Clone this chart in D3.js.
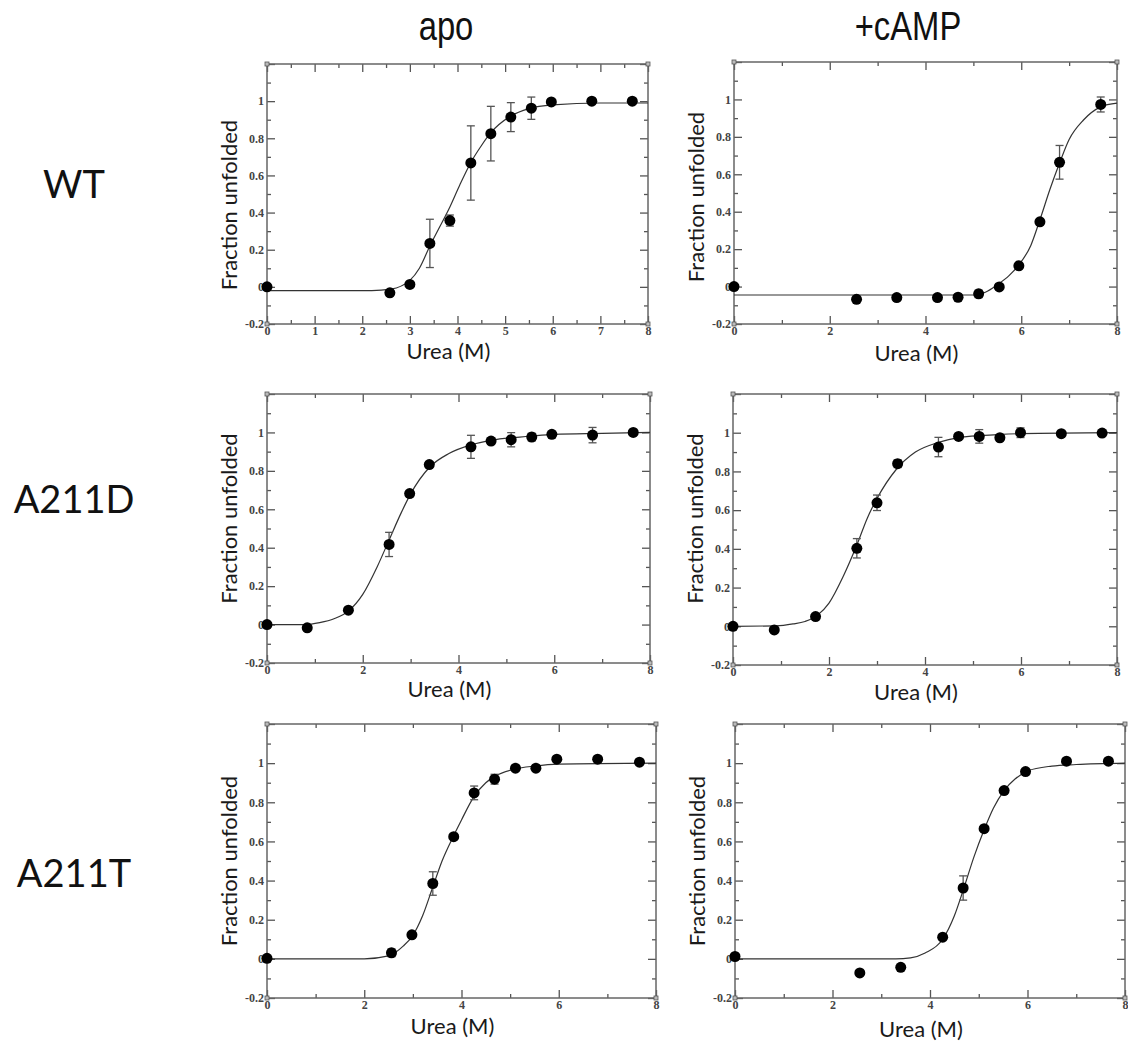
<!DOCTYPE html>
<html>
<head>
<meta charset="utf-8">
<script src="https://cdn.jsdelivr.net/npm/d3@7"></script>
<style>
  html, body { margin: 0; padding: 0; background: #fff; }
  svg { display: block; }
</style>
</head>
<body>
<div id="chart"></div>
<script>
// column / row headings
const columns = ["apo", "+cAMP"];
const rows = ["WT", "A211D", "A211T"];

// measured points: [urea (M), fraction unfolded, error]
const wtApo = [[0, 0, 0], [2.58, -0.032, 0.01], [3.0, 0.013, 0], [3.42, 0.234, 0.13], [3.84, 0.357, 0.03],
  [4.28, 0.667, 0.2], [4.7, 0.825, 0.147], [5.12, 0.914, 0.078], [5.55, 0.962, 0.06], [5.97, 0.996, 0],
  [6.82, 1.0, 0], [7.67, 1.0, 0]];
const wtCamp = [[0, 0, 0], [2.56, -0.068, 0], [3.4, -0.059, 0.015], [4.25, -0.059, 0.012], [4.68, -0.057, 0],
  [5.11, -0.039, 0.02], [5.54, -0.002, 0], [5.95, 0.111, 0], [6.39, 0.346, 0], [6.8, 0.664, 0.09], [7.66, 0.973, 0.04]];
const a211dApo = [[0, 0, 0], [0.84, -0.017, 0], [1.7, 0.075, 0], [2.55, 0.417, 0.063], [2.98, 0.682, 0.015],
  [3.39, 0.833, 0.015], [4.26, 0.925, 0.06], [4.68, 0.955, 0.015], [5.1, 0.962, 0.037], [5.53, 0.976, 0.02],
  [5.95, 0.99, 0.015], [6.8, 0.986, 0.04], [7.65, 1.0, 0]];
const a211dCamp = [[0, 0, 0], [0.86, -0.019, 0], [1.72, 0.05, 0], [2.58, 0.403, 0.05], [3.0, 0.638, 0.04],
  [3.43, 0.84, 0.02], [4.28, 0.926, 0.05], [4.7, 0.981, 0], [5.13, 0.981, 0.035], [5.56, 0.974, 0],
  [5.99, 1.0, 0.025], [6.84, 0.995, 0], [7.69, 0.998, 0]];
const a211tApo = [[0, 0.003, 0], [2.56, 0.031, 0.02], [2.98, 0.123, 0], [3.41, 0.385, 0.06], [3.84, 0.624, 0],
  [4.26, 0.848, 0.035], [4.68, 0.918, 0.025], [5.11, 0.974, 0], [5.53, 0.974, 0], [5.96, 1.02, 0],
  [6.8, 1.02, 0], [7.66, 1.005, 0]];
const a211tCamp = [[0, 0.012, 0], [2.56, -0.072, 0], [3.4, -0.043, 0], [4.26, 0.111, 0], [4.68, 0.362, 0.062],
  [5.11, 0.665, 0], [5.52, 0.86, 0], [5.96, 0.957, 0], [6.8, 1.01, 0], [7.66, 1.01, 0]];

// fitted curves: [urea (M), fraction unfolded]
const wtApoFit = [[0, -0.02], [2.2, -0.02], [2.6, -0.012], [3.0, 0.035], [3.2, 0.1], [3.42, 0.22], [3.6, 0.31],
  [3.84, 0.43], [4.05, 0.55], [4.28, 0.67], [4.5, 0.76], [4.7, 0.83], [5.12, 0.92], [5.5, 0.96], [6.0, 0.98],
  [7.0, 0.99], [8, 0.99]];
const wtCampFit = [[0, -0.045], [5.0, -0.045], [5.25, -0.03], [5.5, 0.01], [5.75, 0.06], [5.95, 0.116], [6.2, 0.22],
  [6.39, 0.357], [6.6, 0.52], [6.8, 0.66], [7.0, 0.786], [7.3, 0.89], [7.66, 0.96], [8, 0.98]];
const a211dApoFit = [[0, 0], [0.8, 0.0], [1.1, 0.01], [1.4, 0.03], [1.7, 0.07], [2.0, 0.157], [2.3, 0.3],
  [2.55, 0.44], [2.8, 0.58], [3.0, 0.68], [3.4, 0.82], [3.8, 0.89], [4.26, 0.935], [4.7, 0.96], [5.5, 0.98],
  [6.0, 0.99], [7.0, 0.995], [8, 1.0]];
const a211dCampFit = [[0, 0], [0.9, 0.002], [1.25, 0.012], [1.5, 0.025], [1.75, 0.055], [2.0, 0.12], [2.3, 0.26],
  [2.58, 0.42], [2.8, 0.56], [3.0, 0.66], [3.4, 0.81], [3.8, 0.9], [4.28, 0.95], [4.7, 0.975], [5.5, 0.99],
  [6.0, 0.995], [8, 1.0]];
const a211tApoFit = [[0, 0], [2.0, 0], [2.5, 0.015], [2.8, 0.065], [3.0, 0.12], [3.2, 0.22], [3.41, 0.367],
  [3.6, 0.5], [3.84, 0.63], [4.0, 0.71], [4.26, 0.83], [4.5, 0.9], [4.7, 0.935], [5.1, 0.97], [5.5, 0.985],
  [6.0, 0.995], [8, 1.0]];
const a211tCampFit = [[0, 0], [3.3, 0], [3.6, 0.005], [3.9, 0.03], [4.26, 0.1], [4.5, 0.22], [4.68, 0.35],
  [4.9, 0.52], [5.11, 0.66], [5.3, 0.77], [5.52, 0.86], [5.75, 0.92], [6.0, 0.96], [6.5, 0.985], [7.0, 0.993],
  [8, 1.0]];

// axis ticks
const yMajorTicks = [-0.2, 0, 0.2, 0.4, 0.6, 0.8, 1, 1.2];
const yMinorTicks = [-0.1, 0.1, 0.3, 0.5, 0.7, 0.9, 1.1];
const yTickLabels = ["-0.2", "0", "0.2", "0.4", "0.6", "0.8", "1", ""];
const xMajorTicksFine = [0, 1, 2, 3, 4, 5, 6, 7, 8];
const xMinorTicksFine = [0.5, 1.5, 2.5, 3.5, 4.5, 5.5, 6.5, 7.5];
const xMajorTicks = [0, 2, 4, 6, 8];
const xMinorTicks = [1, 3, 5, 7];

const panels = [
  { row: 0, col: 0, points: wtApo, fit: wtApoFit, fine: true },
  { row: 0, col: 1, points: wtCamp, fit: wtCampFit, fine: false },
  { row: 1, col: 0, points: a211dApo, fit: a211dApoFit, fine: false },
  { row: 1, col: 1, points: a211dCamp, fit: a211dCampFit, fine: false },
  { row: 2, col: 0, points: a211tApo, fit: a211tApoFit, fine: false },
  { row: 2, col: 1, points: a211tCamp, fit: a211tCampFit, fine: false }
];

// frame of each panel on the page (the source is a pasted composite, so they differ a little)
const frames = [
  { left: 267, right: 648, top: 64, bottom: 324, xlab: 353, ylabDy: 11 },
  { left: 734, right: 1117, top: 62, bottom: 324, xlab: 355, ylabDy: 4 },
  { left: 267, right: 650, top: 394, bottom: 663, xlab: 691, ylabDy: -10 },
  { left: 733, right: 1117, top: 394, bottom: 665, xlab: 694, ylabDy: -11 },
  { left: 267, right: 656, top: 724, bottom: 998, xlab: 1028, ylabDy: 0 },
  { left: 735, right: 1125, top: 724, bottom: 998, xlab: 1031, ylabDy: 0 }
];

const W = 1128, H = 1041;
const svg = d3.select("#chart").append("svg").attr("width", W).attr("height", H);

const headFont = "'Liberation Sans', Arial, sans-serif";
const labelFont = "Lato, 'Open Sans', sans-serif";
const tickFont = "'Liberation Serif', 'DejaVu Serif', serif";

// column headings (condensed face, squeezed horizontally)
svg.selectAll("text.col-head")
  .data(columns)
  .enter().append("text")
  .attr("class", "col-head")
  .attr("transform", (d, i) => `translate(${i === 0 ? 446 : 908},40) scale(0.82,1)`)
  .attr("text-anchor", "middle")
  .style("font-family", headFont)
  .style("font-size", "40px")
  .style("fill", "#111")
  .text(d => d);

// row headings
svg.selectAll("text.row-head")
  .data(rows)
  .enter().append("text")
  .attr("class", "row-head")
  .attr("x", 74)
  .attr("y", (d, i) => [198, 513, 887][i])
  .attr("text-anchor", "middle")
  .style("font-family", labelFont)
  .style("font-size", "38px")
  .style("fill", "#111")
  .text(d => d);

panels.forEach((p, idx) => {
  const f = frames[idx];
  const w = f.right - f.left, h = f.bottom - f.top;
  const g = svg.append("g").attr("transform", `translate(${f.left},${f.top})`);

  const x = d3.scaleLinear().domain([0, 8]).range([0, w]);
  const y = d3.scaleLinear().domain([-0.2, 1.2]).range([h, 0]);

  const xMaj = p.fine ? xMajorTicksFine : xMajorTicks;
  const xMin = p.fine ? xMinorTicksFine : xMinorTicks;

  const styleAxis = sel => {
    sel.select(".domain").remove();
    sel.selectAll("line").attr("stroke", "#555").attr("stroke-width", 1.3);
    sel.selectAll("text")
      .style("font-family", tickFont)
      .style("font-size", "12px")
      .style("font-weight", "bold")
      .attr("fill", "#444");
  };

  // major ticks, inward on all four sides
  g.append("g").attr("transform", `translate(0,${h})`)
    .call(d3.axisBottom(x).tickValues(xMaj).tickSizeInner(-8).tickSizeOuter(0).tickPadding(2).tickFormat(d3.format("d")))
    .call(styleAxis);
  g.append("g")
    .call(d3.axisTop(x).tickValues(xMaj).tickSizeInner(-8).tickSizeOuter(0).tickFormat(""))
    .call(styleAxis);
  g.append("g")
    .call(d3.axisLeft(y).tickValues(yMajorTicks).tickSizeInner(-8).tickSizeOuter(0).tickPadding(3)
      .tickFormat((d, i) => yTickLabels[i]))
    .call(styleAxis);
  g.append("g").attr("transform", `translate(${w},0)`)
    .call(d3.axisRight(y).tickValues(yMajorTicks).tickSizeInner(-8).tickSizeOuter(0).tickFormat(""))
    .call(styleAxis);

  // minor ticks
  g.append("g").attr("transform", `translate(0,${h})`)
    .call(d3.axisBottom(x).tickValues(xMin).tickSizeInner(-4).tickSizeOuter(0).tickFormat(""))
    .call(styleAxis);
  g.append("g")
    .call(d3.axisTop(x).tickValues(xMin).tickSizeInner(-4).tickSizeOuter(0).tickFormat(""))
    .call(styleAxis);
  g.append("g")
    .call(d3.axisLeft(y).tickValues(yMinorTicks).tickSizeInner(-4).tickSizeOuter(0).tickFormat(""))
    .call(styleAxis);
  g.append("g").attr("transform", `translate(${w},0)`)
    .call(d3.axisRight(y).tickValues(yMinorTicks).tickSizeInner(-4).tickSizeOuter(0).tickFormat(""))
    .call(styleAxis);

  // frame
  g.append("rect")
    .attr("width", w).attr("height", h)
    .attr("fill", "none")
    .attr("stroke", "#666")
    .attr("stroke-width", 1.5);

  // little corner squares
  g.selectAll("rect.corner")
    .data([[0, 0], [w, 0], [0, h], [w, h]])
    .enter().append("rect")
    .attr("class", "corner")
    .attr("x", d => d[0] - 2).attr("y", d => d[1] - 2)
    .attr("width", 4).attr("height", 4)
    .attr("fill", "#bbb").attr("stroke", "#555").attr("stroke-width", 0.8);

  // fit curve
  const line = d3.line()
    .x(d => x(d[0]))
    .y(d => y(d[1]))
    .curve(d3.curveMonotoneX);
  g.append("path")
    .datum(p.fit)
    .attr("d", line)
    .attr("fill", "none")
    .attr("stroke", "#333")
    .attr("stroke-width", 1.2);

  // error bars
  const eb = g.selectAll("g.err")
    .data(p.points.filter(d => d[2] > 0))
    .enter().append("g").attr("class", "err")
    .attr("stroke", "#555").attr("stroke-width", 1.3);
  eb.append("line")
    .attr("x1", d => x(d[0])).attr("x2", d => x(d[0]))
    .attr("y1", d => y(d[1] - d[2])).attr("y2", d => y(d[1] + d[2]));
  eb.append("line")
    .attr("x1", d => x(d[0]) - 4).attr("x2", d => x(d[0]) + 4)
    .attr("y1", d => y(d[1] + d[2])).attr("y2", d => y(d[1] + d[2]));
  eb.append("line")
    .attr("x1", d => x(d[0]) - 4).attr("x2", d => x(d[0]) + 4)
    .attr("y1", d => y(d[1] - d[2])).attr("y2", d => y(d[1] - d[2]));

  // points
  g.selectAll("circle.pt")
    .data(p.points)
    .enter().append("circle")
    .attr("class", "pt")
    .attr("cx", d => x(d[0]))
    .attr("cy", d => y(d[1]))
    .attr("r", 5.5)
    .attr("fill", "#000");

  // axis titles
  svg.append("text")
    .attr("x", (f.left + f.right) / 2 - 9)
    .attr("y", f.xlab)
    .attr("text-anchor", "middle")
    .attr("dominant-baseline", "middle")
    .style("font-family", labelFont)
    .style("font-size", "22px")
    .style("fill", "#1a1a1a")
    .text("Urea (M)");

  svg.append("text")
    .attr("transform", `translate(${f.left - 36},${(f.top + f.bottom) / 2 + f.ylabDy}) rotate(-90)`)
    .attr("text-anchor", "middle")
    .attr("dominant-baseline", "middle")
    .style("font-family", labelFont)
    .style("font-size", "22px")
    .style("fill", "#1a1a1a")
    .text("Fraction unfolded");
});
</script>
</body>
</html>
